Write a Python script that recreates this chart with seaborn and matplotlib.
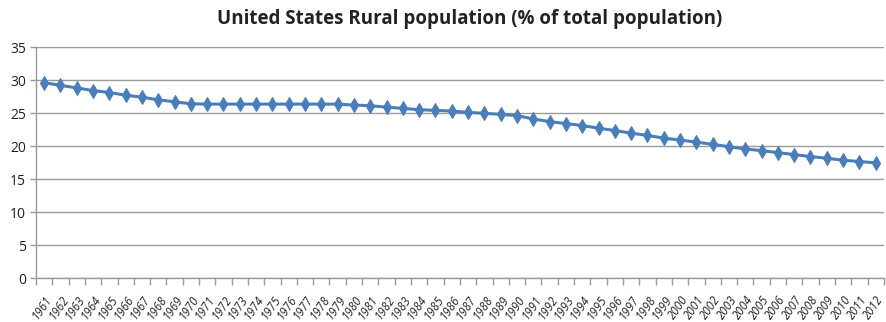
import matplotlib
matplotlib.use("Agg")
import matplotlib.pyplot as plt
import seaborn as sns
import numpy as np
import pandas as pd

years = [str(y) for y in range(1961, 2013)]
rural_pct = [
    29.6, 29.2, 28.8, 28.4, 28.1, 27.7, 27.4, 27.0, 26.7, 26.4,   # 1961-1970
    26.35, 26.35, 26.35, 26.35, 26.35, 26.35, 26.35, 26.35, 26.35, 26.2,  # 1971-1980
    26.1, 25.9, 25.7, 25.5, 25.4, 25.3, 25.1, 24.95, 24.8, 24.6,  # 1981-1990
    24.1, 23.7, 23.4, 23.1, 22.7, 22.35, 21.95, 21.6, 21.2, 20.9,  # 1991-2000
    20.6, 20.25, 19.9, 19.55, 19.3, 19.0, 18.7, 18.4, 18.15, 17.85,  # 2001-2010
    17.65, 17.45,  # 2011-2012
]
y_ticks = [0, 5, 10, 15, 20, 25, 30, 35]
title = "United States Rural population (% of total population)"

df = pd.DataFrame({"pos": np.arange(len(years)), "year": years, "value": rural_pct})

sns.set_theme(style="white")
plt.rcParams["font.family"] = ["Open Sans", "DejaVu Sans"]

fig = plt.figure(figsize=(8.86, 3.22), dpi=100)
ax = fig.add_axes([0.0406, 0.1366, 0.957, 0.7174])

line_color = "#4A7EBB"
sns.lineplot(data=df, x="pos", y="value", ax=ax, color=line_color, linewidth=2.2,
             marker="d", markersize=7, markeredgecolor=line_color,
             markerfacecolor=line_color, markeredgewidth=0.8)

ax.set_xlim(-0.5, len(years) - 0.5)
ax.set_ylim(0, 35)
ax.set_yticks(y_ticks)
ax.set_yticklabels([str(v) for v in y_ticks], fontsize=10, color="#222222")
ax.yaxis.grid(True, color="#9A9A9A", linewidth=1.0)
ax.set_axisbelow(True)

ax.set_xticks(df["pos"])
ax.set_xticklabels(years, rotation=55, fontsize=8.3, style="italic",
                   ha="right", va="top", color="#222222",
                   rotation_mode="anchor")
ax.set_xticks(np.arange(-0.5, len(years)), minor=True)
ax.tick_params(axis="x", which="major", length=0, pad=11)
ax.tick_params(axis="x", which="minor", length=5, color="#9A9A9A", width=1,
               direction="out", bottom=True)
ax.tick_params(axis="y", length=4, color="#9A9A9A", width=1, direction="out", pad=3,
               left=True)

for side in ["top", "right"]:
    ax.spines[side].set_visible(False)
for side in ["left", "bottom"]:
    ax.spines[side].set_color("#9A9A9A")
    ax.spines[side].set_linewidth(1.0)

ax.set_xlabel("")
ax.set_ylabel("")
fig.text(0.53, 0.94, title, ha="center", va="center", fontsize=13.5,
         fontweight="bold", color="#222222")

fig.savefig("out.png", dpi=100)
